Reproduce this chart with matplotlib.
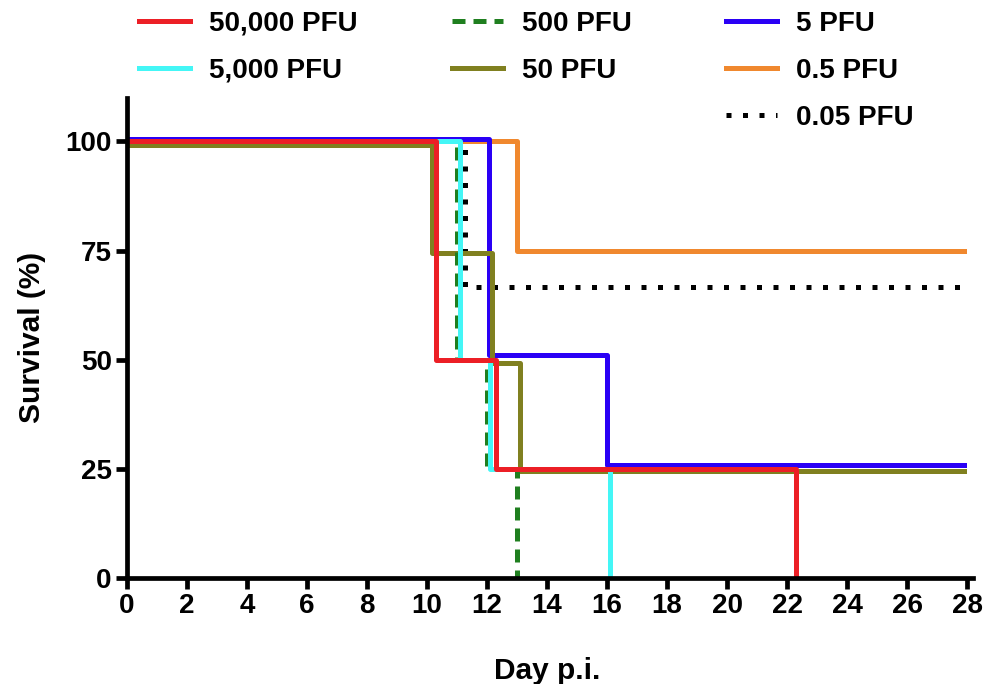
import matplotlib
matplotlib.use('Agg')
from matplotlib import pyplot as plt
from matplotlib.lines import Line2D

plt.rcParams['font.family'] = ['Liberation Sans', 'DejaVu Sans']
plt.rcParams['font.weight'] = 'bold'

# survival curves (day of event, survival % after the event)
t_50000 = [0, 10.3, 12.3, 22.3]
s_50000 = [100, 50, 25, 0]
t_5000 = [0, 11.1, 12.1, 16.1]
s_5000 = [100, 50, 25, 0]
t_500 = [0, 11.0, 12.0, 13.0]
s_500 = [100, 50, 25, 0]
t_50 = [0, 10.15, 12.15, 13.1, 28]
s_50 = [99.3, 74.5, 49.3, 24.5, 24.5]
t_5 = [0, 12.05, 16.0, 28]
s_5 = [100.6, 51, 25.8, 25.8]
t_05 = [0, 13.0, 28]
s_05 = [100, 75, 75]
t_005 = [0, 11.27, 28]
s_005 = [100, 66.7, 66.7]

x_ticks = list(range(0, 29, 2))
y_ticks = [0, 25, 50, 75, 100]

fig = plt.figure(figsize=(9.84, 6.84), dpi=100)
ax = fig.add_axes([0.129, 0.155, 0.854, 0.702])

lw = 3.6
l005, = ax.step(t_005, s_005, where='post', color='black', lw=lw, linestyle=(0, (1.0, 2.3)), label='0.05 PFU')
l05, = ax.step(t_05, s_05, where='post', color='#f0882e', lw=lw, label='0.5 PFU')
l5, = ax.step(t_5, s_5, where='post', color='#2a00f5', lw=lw, label='5 PFU')
l50, = ax.step(t_50, s_50, where='post', color='#808020', lw=lw, label='50 PFU')
l500, = ax.step(t_500, s_500, where='post', color='#1f7f1f', lw=lw, linestyle=(0, (2.6, 1.6)), label='500 PFU')
l5000, = ax.step(t_5000, s_5000, where='post', color='#44f6f6', lw=lw, label='5,000 PFU')
l50000, = ax.step(t_50000, s_50000, where='post', color='#ec1f26', lw=lw, label='50,000 PFU')

ax.set_xlim(0, 28)
ax.set_ylim(0, 110)
ax.set_xticks(x_ticks)
ax.set_yticks(y_ticks)
for s in ['top', 'right']:
    ax.spines[s].set_visible(False)
for s in ['left', 'bottom']:
    ax.spines[s].set_linewidth(3.4)
ax.spines['bottom'].set_bounds(0, 28.2)
ax.tick_params(axis='both', width=3.4, length=8, labelsize=20, pad=3)
ax.set_xlabel('Day p.i.', fontsize=21.5, fontweight='bold', labelpad=27)
ax.set_ylabel('Survival (%)', fontsize=21.5, fontweight='bold', labelpad=14)

blank = Line2D([], [], alpha=0)
handles = [l50000, l5000, blank, l500, l50, blank, l5, l05, l005]
labels = ['50,000 PFU', '5,000 PFU', '', '500 PFU', '50 PFU', '', '5 PFU', '0.5 PFU', '0.05 PFU']
fig.legend(handles, labels, ncol=3, loc='upper left', bbox_to_anchor=(0.116, 1.021),
           frameon=False, fontsize=20, handlelength=1.83, handletextpad=0.68,
           columnspacing=3.4, labelspacing=0.76)

fig.savefig('out.png', dpi=100)
